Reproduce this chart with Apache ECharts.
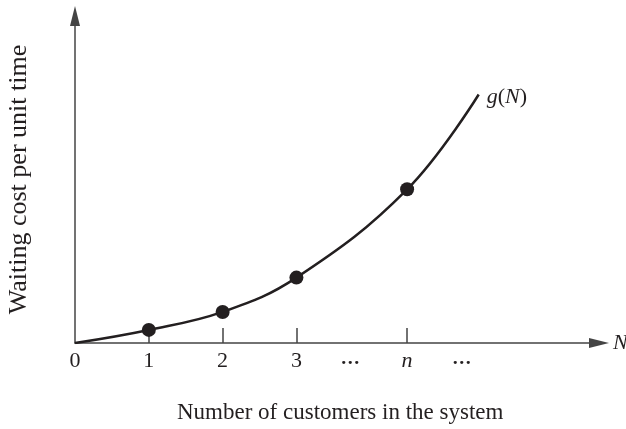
<!DOCTYPE html>
<html>
<head>
<meta charset="utf-8">
<script src="https://cdn.jsdelivr.net/npm/echarts@6/dist/echarts.min.js"></script>
<style>
  html, body { margin: 0; padding: 0; background: #fff; }
  #chart { width: 626px; height: 429px; }
</style>
</head>
<body>
<div id="chart"></div>
<script>
// curve g(N) (x in customer units, y in arbitrary cost units)
const curveX = [0, 1, 2, 3, 4.5, 5.47];
const curveY = [0, 4, 9.5, 20, 47, 76];

// the marked points on the curve
const dotX = [1, 2, 3, 4.5];
const dotY = [4, 9.5, 20, 47];

// x axis ticks and labels
const tickValues = [1, 2, 3, 4.5];
const labelValues = [0, 1, 2, 3, 3.73, 4.5, 5.24];
const labelTexts = ["0", "1", "2", "3", "{dots|•••}", "{it|n}", "{dots|•••}"];

const ink = "#231f20";
const axisGray = "#444";
const serif = "Liberation Serif";

const chart = echarts.init(document.getElementById("chart"));

chart.setOption({
  backgroundColor: "#fff",
  animation: false,
  title: {
    text: "Number of customers in the system",
    left: 172,
    top: 396,
    textStyle: { color: ink, fontFamily: serif, fontSize: 23, fontWeight: "normal" },
  },
  grid: { left: 75, right: 27, top: 16, bottom: 86, outerBoundsMode: "none" },
  xAxis: {
    type: "value",
    min: 0,
    max: 7.1,
    name: "N",
    nameLocation: "end",
    nameGap: 14,
    nameTextStyle: { color: ink, fontFamily: serif, fontSize: 22, fontStyle: "italic" },
    axisLine: {
      onZero: false,
      symbol: ["none", "triangle"],
      symbolSize: [10, 20],
      lineStyle: { color: axisGray, width: 1.5 },
    },
    axisTick: {
      show: true,
      inside: true,
      length: 15,
      customValues: tickValues,
      lineStyle: { color: axisGray, width: 1.5 },
    },
    axisLabel: {
      customValues: labelValues,
      margin: 7,
      color: ink,
      fontFamily: serif,
      fontSize: 22,
      formatter: (value) => {
        const i = labelValues.findIndex((v) => Math.abs(v - value) < 1e-6);
        return i >= 0 ? labelTexts[i] : "";
      },
      rich: {
        it: { fontFamily: serif, fontSize: 22, fontStyle: "italic", color: ink },
        dots: { fontFamily: "DejaVu Sans", fontSize: 11, color: ink, padding: [8, 0, 0, 0] },
      },
    },
    splitLine: { show: false },
  },
  yAxis: {
    type: "value",
    min: 0,
    max: 100,
    name: "Waiting cost per unit time",
    nameLocation: "middle",
    nameRotate: 90,
    nameGap: 43,
    nameTextStyle: { color: ink, fontFamily: serif, fontSize: 26 },
    axisLine: {
      show: true,
      symbol: ["none", "triangle"],
      symbolSize: [10, 20],
      lineStyle: { color: axisGray, width: 1.5 },
    },
    axisTick: { show: false },
    axisLabel: { show: false },
    splitLine: { show: false },
  },
  series: [
    {
      type: "line",
      smooth: 0.4,
      showSymbol: false,
      data: curveX.map((x, i) => [x, curveY[i]]),
      lineStyle: { color: ink, width: 2.5 },
      endLabel: {
        show: true,
        distance: 8,
        offset: [0, 3],
        formatter: "{it|g}({it|N})",
        color: ink,
        fontFamily: serif,
        fontSize: 22,
        rich: {
          it: { fontFamily: serif, fontSize: 22, fontStyle: "italic", color: ink },
        },
      },
      z: 2,
    },
    {
      type: "scatter",
      symbol: "circle",
      symbolSize: 14,
      data: dotX.map((x, i) => [x, dotY[i]]),
      itemStyle: { color: ink, opacity: 1 },
      z: 3,
    },
  ],
});
</script>
</body>
</html>
